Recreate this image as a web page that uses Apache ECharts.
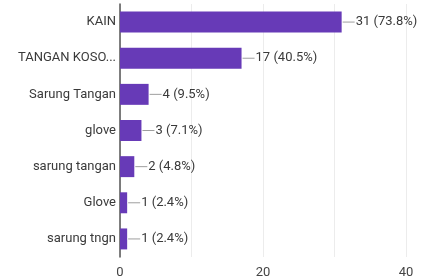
<!DOCTYPE html>
<html>
<head>
<meta charset="utf-8">
<script src="https://cdn.jsdelivr.net/npm/echarts@6/dist/echarts.min.js"></script>
<style>
  html, body { margin: 0; padding: 0; background: #fff; }
  #main { width: 422px; height: 279px; }
</style>
</head>
<body>
<div id="main"></div>
<script>
// jawaban & jumlah responden
var categories = ["KAIN", "TANGAN KOSO...", "Sarung Tangan", "glove", "sarung tangan", "Glove", "sarung tngn"];
var counts = [31, 17, 4, 3, 2, 1, 1];
var totalResponses = 42;
var xTicks = [0, 20, 40];

var myChart = echarts.init(document.getElementById("main"));
myChart.setOption({
  animation: false,
  textStyle: { fontFamily: "Roboto" },
  grid: { left: 120, right: 16, top: 4, bottom: 22 },
  xAxis: {
    type: "value",
    min: 0,
    max: 40,
    interval: 10,
    axisLine: { show: false },
    axisTick: { show: false },
    splitLine: { lineStyle: { color: "#ececec" } },
    axisLabel: {
      color: "#444",
      fontSize: 13,
      margin: 9,
      formatter: function (v) { return xTicks.indexOf(v) >= 0 ? String(v) : ""; }
    }
  },
  yAxis: {
    type: "category",
    inverse: true,
    data: categories,
    axisLine: { lineStyle: { color: "#555", width: 1.5 } },
    axisTick: { show: false },
    axisLabel: { color: "#3a3a3a", fontSize: 13, margin: 4 }
  },
  series: [
    {
      type: "bar",
      data: counts,
      barCategoryGap: "42%",
      itemStyle: { color: "#673ab7" },
      label: {
        show: true,
        position: "right",
        distance: 1,
        formatter: function (p) {
          var pct = (p.value / totalResponses * 100).toFixed(1);
          return "{l|}{t|" + p.value + " (" + pct + "%)}";
        },
        rich: {
          l: { width: 12, height: 1, backgroundColor: "#9e9e9e" },
          t: { color: "#3a3a3a", fontSize: 13, padding: [0, 0, 0, 1] }
        }
      }
    }
  ]
});
</script>
</body>
</html>
